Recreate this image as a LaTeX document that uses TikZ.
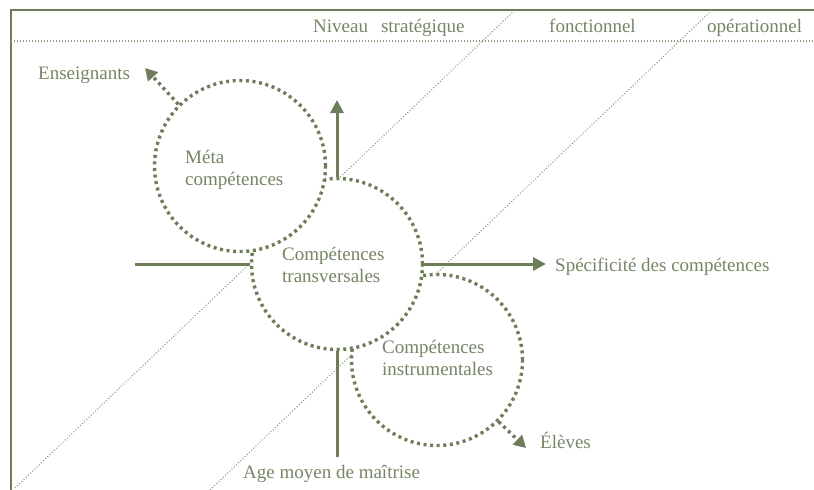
\documentclass[tikz,border=0pt]{standalone}
\usepackage{fontspec}
\setmainfont{Liberation Serif}
\usetikzlibrary{arrows.meta}
\definecolor{olive}{RGB}{108,125,88}
\definecolor{txt}{RGB}{118,133,102}
\definecolor{thinc}{RGB}{140,154,125}
\begin{document}
\begin{tikzpicture}[x=1pt,y=-1pt,
  circ/.style={circle,minimum size=171pt,inner sep=0pt,draw=olive,fill=white,line width=3.4pt,dash pattern=on 3pt off 3.6pt},
  lbl/.style={text=txt,font=\fontsize{19}{22}\selectfont,inner sep=0pt,anchor=base west,align=left},
  thickln/.style={draw=olive,line width=3pt},
  arr/.style={-{Triangle[length=13pt,width=13pt]}},
  dotarr/.style={draw=olive,line width=3.4pt,dash pattern=on 3pt off 3.6pt,-{Triangle[length=12pt,width=13pt]}},
  thinline/.style={draw=thinc,line width=1.1pt,dash pattern=on 1pt off 2pt},
  frameline/.style={draw=olive,line width=2.5pt}]
\useasboundingbox (0,0) rectangle (814,490);
% frame
\coordinate (fbl) at (11,490);
\coordinate (ftl) at (11,10);
\coordinate (ftr) at (814,10);
\coordinate (hl) at (11,41);
\coordinate (hr) at (814,41);
\draw[frameline] (fbl) -- (ftl) -- (ftr);
\draw[thinline] (hl) -- (hr);
% diagonals
\coordinate (d1a) at (15,488);
\coordinate (d1b) at (515,10);
\coordinate (d2a) at (210,490);
\coordinate (d2b) at (712,10);
\draw[thinline] (d1a) -- (d1b);
\draw[thinline] (d2a) -- (d2b);
% circles
\node[circ] (instr) at (437,360) {};
\node[circ] (trans) at (337,264) {};
\node[circ] (meta) at (240,166) {};
% axes
\coordinate (upend) at (337,100);
\coordinate (leftend) at (135,264);
\coordinate (rightend) at (546,264);
\coordinate (downend) at (337,457);
\coordinate (ensend) at (145,68);
\coordinate (elvend) at (526,448);
\draw[thickln,arr] (trans.north) -- (upend);
\draw[thickln] (trans.west) -- (leftend);
\draw[thickln,arr] (trans.east) -- (rightend);
\draw[thickln] (trans.south) -- (downend);
\draw[dotarr] (meta.135) -- (ensend);
\draw[dotarr] (instr.-45) -- (elvend);
% labels
\node[lbl] (lniv) at (313,32) {Niveau\hspace{13pt}stratégique};
\node[lbl] (lfon) at (549,32) {fonctionnel};
\node[lbl] (lope) at (707,32) {opérationnel};
\node[lbl] (lens) at (38,79) {Enseignants};
\node[lbl] (lmeta) at (185,185) {Méta\\compétences};
\node[lbl] (ltrans) at (282,282) {Compétences\\transversales};
\node[lbl] (lspec) at (555,271) {Spécificité des compétences};
\node[lbl] (linstr) at (382,375) {Compétences\\instrumentales};
\node[lbl] (lelv) at (540,448) {Élèves};
\node[lbl] (lage) at (243,478) {Age moyen de maîtrise};
\end{tikzpicture}
\end{document}
